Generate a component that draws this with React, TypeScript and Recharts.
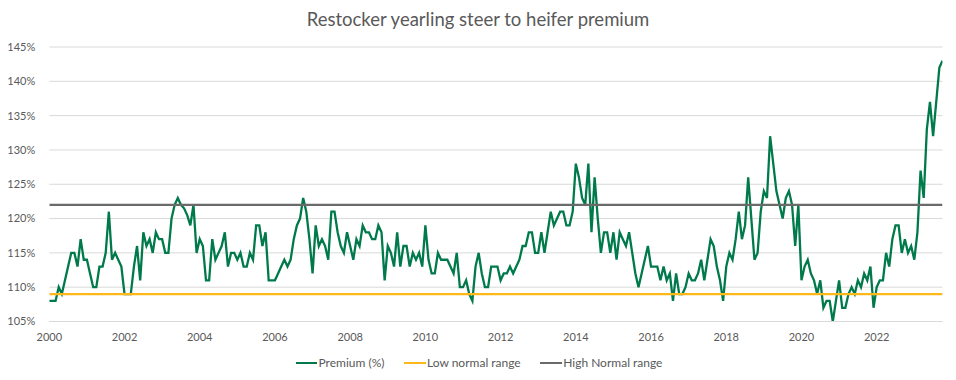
import React from 'react';
import { LineChart, Line, XAxis, YAxis, CartesianGrid, Legend } from 'recharts';

// Monthly restocker yearling steer to heifer premium (%), Jan 2000 onward
const premium: number[] = [
  108, 108, 108, 110, 109, 111, 113, 115, 115, 113, 117, 114,
  114, 112, 110, 110, 113, 113, 115, 121, 114, 115, 114, 113,
  109, 109, 109, 113, 116, 111, 118, 116, 117, 115, 118, 117,
  117, 115, 115, 120, 122, 123, 122, 121.5, 120.5, 119, 122, 115,
  117, 116, 111, 111, 117, 114, 115, 116, 118, 113, 115, 115,
  114, 115, 113, 113, 115, 114, 119, 119, 116, 118, 111, 111,
  111, 112, 113, 114, 113, 114, 117, 119, 120, 123, 121, 117,
  112, 119, 116, 117, 116, 114, 121, 121, 118, 116, 115, 118,
  116, 114, 117, 116, 119, 118, 118, 117, 117, 119, 118, 111,
  116, 115, 113, 118, 113, 116, 116, 113, 115, 114, 115, 113,
  119, 114, 112, 112, 115, 114, 114, 114, 113, 112, 115, 110,
  110, 111, 109, 108, 113, 115, 112, 110, 110, 113, 113, 113,
  111, 112, 112, 113, 112, 113, 114, 116, 116, 118, 118, 115,
  115, 118, 115, 118, 121, 119, 120, 121, 121, 119, 119, 121,
  128, 126, 123, 122, 128, 118, 126, 120, 115, 118, 118, 115,
  118, 114, 118, 117, 116, 118, 115, 112, 110, 112, 114, 116,
  113, 113, 113, 111, 113, 111, 112, 108, 112, 109, 109, 110,
  112, 111, 111, 112, 114, 111, 114, 117, 116, 113, 111, 108,
  113, 115, 114, 117, 121, 117, 119, 126, 120, 114, 115, 121,
  124, 123, 132, 128, 124, 122, 120, 123, 124, 122, 116, 122,
  111, 113, 114, 112, 111, 109, 111, 107, 108, 108, 105, 108,
  111, 107, 107, 109, 110, 109, 111, 110, 112, 111, 113, 107,
  110, 111, 111, 115, 113, 117, 119, 119, 115, 117, 115, 116,
  114, 118, 127, 123, 133, 137, 132, 137, 142, 143,
];

const lowNormalRange = 109;
const highNormalRange = 122;
const startYear = 2000;
const yearTicks: number[] = [2000, 2002, 2004, 2006, 2008, 2010, 2012, 2014, 2016, 2018, 2020, 2022];
const percentTicks: number[] = [105, 110, 115, 120, 125, 130, 135, 140, 145];

const titleText = 'Restocker yearling steer to heifer premium';
const premiumName = 'Premium (%)';
const lowName = 'Low normal range';
const highName = 'High Normal range';
const legendOrder: string[] = [premiumName, lowName, highName];

const GREEN = '#007A4B';
const ORANGE = '#FFB81C';
const GREY = '#6A6A6A';
const TEXT = '#595959';
const GRID = '#D9D9D9';
const FONT = "Lato, 'Open Sans', 'DejaVu Sans', sans-serif";

const data = premium.map((v, i) => ({
  t: startYear + i / 12,
  premium: v,
  low: lowNormalRange,
  high: highNormalRange,
}));

const renderLegend = (props: any) => {
  const payload = [...(props.payload || [])].sort(
    (a: any, b: any) => legendOrder.indexOf(a.value) - legendOrder.indexOf(b.value)
  );
  return (
    <div
      style={{
        display: 'flex',
        justifyContent: 'center',
        alignItems: 'center',
        fontFamily: FONT,
        fontSize: 12,
        color: TEXT,
        height: 20,
        lineHeight: '20px',
        marginLeft: 2,
      }}
    >
      {payload.map((entry: any, idx: number) => (
        <div key={idx} style={{ display: 'flex', alignItems: 'center', marginLeft: idx ? 19.5 : 0 }}>
          <span
            style={{
              display: 'inline-block',
              width: 21.6,
              height: 2.6,
              background: entry.color,
              marginRight: 1.4,
            }}
          />
          <span>{entry.value}</span>
        </div>
      ))}
    </div>
  );
};

export default function App() {
  return (
    <div style={{ position: 'absolute', left: 0, top: 0, width: 956, height: 380, background: '#fff' }}>
      <div
        style={{
          position: 'absolute',
          top: 8,
          left: 0,
          width: 956,
          textAlign: 'center',
          fontFamily: FONT,
          fontSize: 18.5,
          lineHeight: '22px',
          color: TEXT,
        }}
      >
        {titleText}
      </div>
      <LineChart
        width={956}
        height={380}
        data={data}
        margin={{ top: 47, right: 13.5, bottom: 28.5, left: 0 }}
      >
        <CartesianGrid horizontal vertical={false} stroke={GRID} />
        <XAxis
          dataKey="t"
          type="number"
          domain={[startYear, startYear + (premium.length - 1) / 12]}
          ticks={yearTicks}
          tickFormatter={(v: number) => String(Math.round(v))}
          interval={0}
          tickLine={false}
          axisLine={{ stroke: GRID }}
          tick={{ fill: TEXT, fontSize: 11, fontFamily: FONT }}
          tickMargin={6}
          height={30}
          allowDataOverflow
        />
        <YAxis
          domain={[105, 145]}
          ticks={percentTicks}
          tickFormatter={(v: number) => `${v}%`}
          interval={0}
          width={49.3}
          tickLine={false}
          axisLine={false}
          tick={{ fill: TEXT, fontSize: 11, fontFamily: FONT }}
          tickMargin={8}
          allowDataOverflow
        />
        <Legend
          layout="horizontal"
          verticalAlign="middle"
          align="center"
          itemSorter={null as any}
          wrapperStyle={{ top: 353, left: 0, width: 956, height: 20 }}
          content={renderLegend}
        />
        <Line
          dataKey="premium"
          name={premiumName}
          type="linear"
          stroke={GREEN}
          strokeWidth={2.3}
          dot={false}
          activeDot={false}
          isAnimationActive={false}
        />
        <Line
          dataKey="low"
          name={lowName}
          type="linear"
          stroke={ORANGE}
          strokeWidth={2.3}
          dot={false}
          activeDot={false}
          isAnimationActive={false}
        />
        <Line
          dataKey="high"
          name={highName}
          type="linear"
          stroke={GREY}
          strokeWidth={2.3}
          dot={false}
          activeDot={false}
          isAnimationActive={false}
        />
      </LineChart>
    </div>
  );
}
